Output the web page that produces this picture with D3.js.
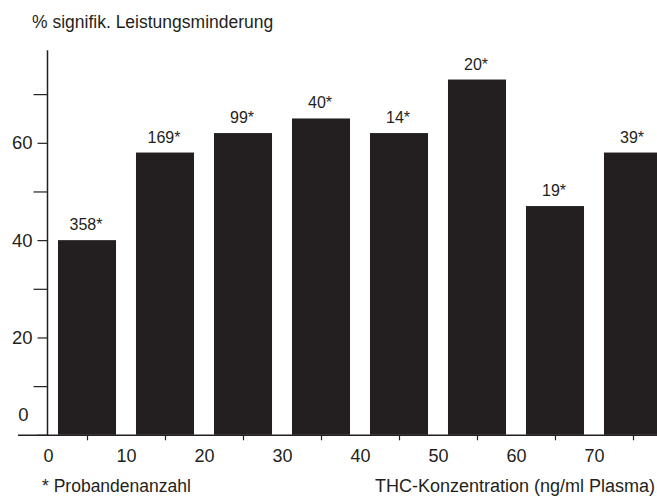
<!DOCTYPE html>
<html><head><meta charset="utf-8">
<script src="https://cdn.jsdelivr.net/npm/d3@7"></script>
<style>
html,body{margin:0;padding:0;background:#fff;}
svg text{font-family:"Liberation Sans",Arial,Helvetica,sans-serif;fill:#231f20;}
</style></head>
<body>
<svg id="chart" width="657" height="498"></svg>
<script>
// THC concentration classes (ng/ml plasma)
const binStart = [0, 10, 20, 30, 40, 50, 60, 70];
const binEnd   = [10, 20, 30, 40, 50, 60, 70, 80];
// % significant performance reduction
const values   = [40, 58, 62, 65, 62, 73, 47, 58];
// number of subjects
const counts   = [358, 169, 99, 40, 14, 20, 19, 39];
const yMajorTicks = [0, 20, 40, 60];
const yMinorTicks = [10, 30, 50, 70];
const xLabelTicks = [0, 10, 20, 30, 40, 50, 60, 70];
const xMarkTicks  = [5, 15, 25, 35, 45, 55, 65, 75];
const yTitle = "% signifik. Leistungsminderung";
const xTitle = "THC-Konzentration (ng/ml Plasma)";
const footnote = "* Probandenanzahl";

const ink = "#231f20";
const svg = d3.select("#chart");
const x = d3.scaleLinear().domain([0, 80]).range([48, 48 + 80 * 7.8]);
const y = d3.scaleLinear().domain([0, 60]).range([434.8, 142.8]);
const bw = 7.44; // bar width in data units

const data = binStart.map((s, i) => ({ s, e: binEnd[i], v: values[i], n: counts[i] }));

// bars
svg.append("g").selectAll("rect").data(data).join("rect")
  .attr("x", d => x((d.s + d.e) / 2 - bw / 2))
  .attr("width", d => x(bw) - x(0))
  .attr("y", d => y(d.v))
  .attr("height", d => y(0) - y(d.v))
  .attr("fill", ink);

// bar labels
svg.append("g").selectAll("text").data(data).join("text")
  .attr("x", d => x((d.s + d.e) / 2) - 1)
  .attr("y", d => y(d.v) - 10)
  .attr("text-anchor", "middle")
  .style("font-size", "16px")
  .text(d => d.n + "*");

// y axis
const yAxisG = svg.append("g").attr("transform", "translate(47.5,0)")
  .call(d3.axisLeft(y).tickValues(yMajorTicks).tickSize(10).tickPadding(5).tickFormat(d3.format("d")));
yAxisG.select(".domain").remove();
yAxisG.selectAll("line").attr("stroke", ink).attr("stroke-width", 1.2);
yAxisG.selectAll("text").style("font-size", "18.5px").attr("fill", ink)
  .filter(d => d === 0).attr("transform", "translate(-4,-20)");
const yMinorG = svg.append("g").attr("transform", "translate(47.5,0)")
  .call(d3.axisLeft(y).tickValues(yMinorTicks).tickSize(14).tickFormat(""));
yMinorG.select(".domain").remove();
yMinorG.selectAll("line").attr("stroke", ink).attr("stroke-width", 1.2);
svg.append("line").attr("x1", 47.5).attr("x2", 47.5)
  .attr("y1", y(79)).attr("y2", y(0) + 1)
  .attr("stroke", ink).attr("stroke-width", 1.5);

// x axis
svg.append("line").attr("x1", 18).attr("x2", 657)
  .attr("y1", y(0) + 0.5).attr("y2", y(0) + 0.5)
  .attr("stroke", ink).attr("stroke-width", 1.5);
const xTickG = svg.append("g").attr("transform", `translate(0,${y(0) + 0.5})`)
  .call(d3.axisBottom(x).tickValues(xMarkTicks).tickSize(5).tickFormat(""));
xTickG.select(".domain").remove();
xTickG.selectAll("line").attr("stroke", ink).attr("stroke-width", 1.2);
const xLabG = svg.append("g").attr("transform", `translate(0,${y(0) + 0.5})`)
  .call(d3.axisBottom(x).tickValues(xLabelTicks).tickSize(0).tickPadding(13.5).tickFormat(d3.format("d")));
xLabG.select(".domain").remove();
xLabG.selectAll("text").style("font-size", "18px").attr("fill", ink);

// titles
svg.append("text").attr("x", 32).attr("y", 28).style("font-size", "17.5px").text(yTitle);
svg.append("text").attr("x", 42).attr("y", 492).style("font-size", "17.5px").text(footnote);
svg.append("text").attr("x", 375).attr("y", 492).style("font-size", "18px").text(xTitle);
</script>
</body></html>
